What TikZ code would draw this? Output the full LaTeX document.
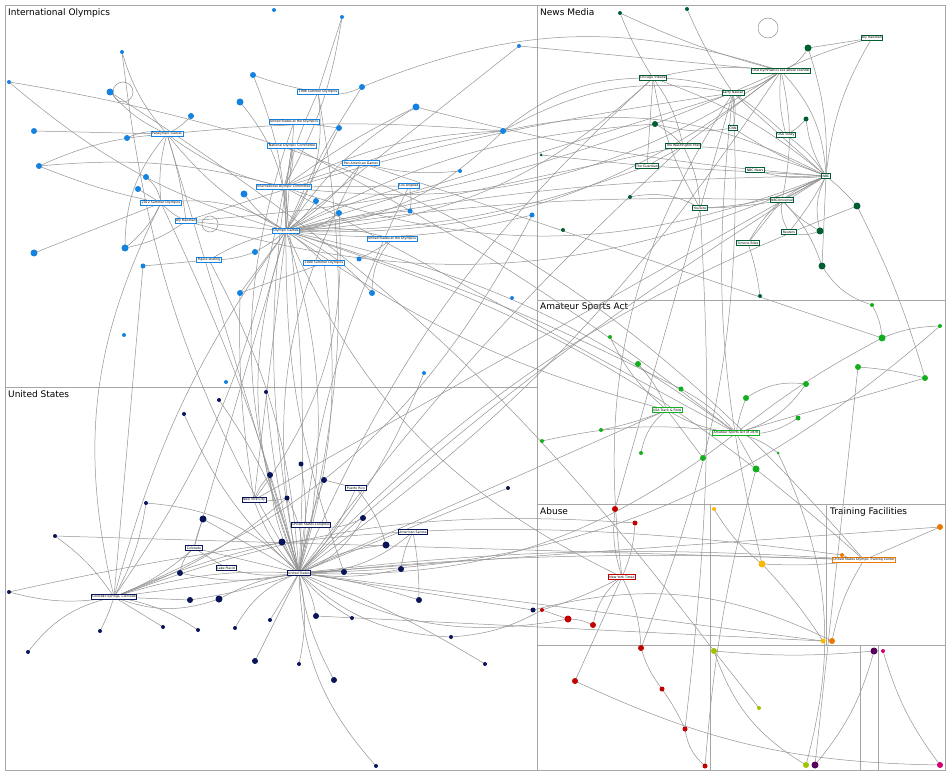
\documentclass[tikz,border=0pt]{standalone}
\usepackage{fontspec}
\setmainfont{DejaVu Sans}
\definecolor{cb}{RGB}{20,130,225}
\definecolor{cn}{RGB}{10,20,90}
\definecolor{cdg}{RGB}{0,95,50}
\definecolor{clg}{RGB}{20,175,30}
\definecolor{cr}{RGB}{195,0,0}
\definecolor{cy}{RGB}{250,185,0}
\definecolor{co}{RGB}{235,120,0}
\definecolor{cyg}{RGB}{160,195,0}
\definecolor{cp}{RGB}{90,0,90}
\definecolor{cm}{RGB}{210,0,120}
\tikzset{
 lab/.style={draw=#1,fill=white,line width=0.8pt,font=\fontsize{3.2}{3.2}\selectfont,inner sep=1pt,text=black},
 dot/.style={circle,fill=#1,inner sep=0pt},
 edge/.style={draw=gray!85,line width=0.5pt},
 frame/.style={draw=gray!70,line width=0.6pt},
 title/.style={font=\fontsize{9}{9}\selectfont,anchor=north west,inner sep=1pt}
}
\begin{document}
\begin{tikzpicture}[x=1pt,y=-1pt]
\useasboundingbox (0,0) rectangle (950,775);
\fill[white] (0,0) rectangle (950,775);
% region frames
\draw[frame] (5,5) rectangle (945,770);
\draw[frame] (537,5) -- (537,770);
\draw[frame] (5,387) -- (537,387);
\draw[frame] (537,300) -- (945,300);
\draw[frame] (537,504) -- (945,504);
\draw[frame] (710,504) -- (710,770);
\draw[frame] (826,504) -- (826,645);
\draw[frame] (537,645) -- (945,645);
\draw[frame] (860,645) -- (860,770);
\draw[frame] (878,645) -- (878,770);
\node[title] (t1) at (7,7) {International Olympics};
\node[title] (t2) at (539,7) {News Media};
\node[title] (t3) at (7,389) {United States};
\node[title] (t4) at (539,302) {Amateur Sports Act};
\node[title] (t5) at (539,506) {Abuse};
\node[title] (t6) at (829,506) {Training Facilities};
% label coordinates
\foreach \x/\y/\n in {318/92/s96,294/122/usao,167/134/para,292/146/noc,361/163/pan,284/187/ioc,409/186/la,161/203/s12,186/221/aly,286/231/og,392/239/yog,209/260/fig,324/263/s00,
872/38/ar,653/78/ct,781/71/usag,733/93/ln,733/128/cnn,786/135/usat,683/146/wp,647/166/gu,755/170/nbcn,826/176/nbc,782/200/nbcu,700/208/yt,789/232/reu,748/243/sb,
254/500/nyc,356/488/pr,311/525/usc,413/532/as,194/548/col,226/568/lp,299/573/us,114/597/cs,667/410/usatf,736/433/asa,622/577/nyt,864/560/otc}
 \coordinate (\n) at (\x,\y);
% dots coordinates
\foreach \x/\y/\r [count=\i] in {274/10/4,342/17/4,122/52/4,519/46/4,9/82/4,110/92/7,253/75/6,362/87/6,240/102/7,416/107/7,191/116/6,339/128/6,503/131/6,127/138/6,34/131/6,39/166/6,146/177/6,138/189/6,244/194/7,316/201/6,460/171/4,410/211/5,339/213/6,532/215/5,34/253/7,125/248/7,143/266/5,255/252/6,359/259/5,240/293/6,372/293/6,512/298/4,124/335/4,226/382/4,424/373/4}
 {\coordinate (b\i) at (\x,\y);}
\foreach \x/\y/\r [count=\i] in {184/414/4,219/400/4,266/392/4,146/503/4,203/519/7,270/475/6,301/464/5,324/480/6,287/498/5,282/542/7,386/545/7,401/569/6,344/572/6,363/518/6,508/488/4,180/573/6,219/599/7,190/600/6,9/592/4,55/536/4,100/631/4,28/652/4,163/627/4,198/630/4,235/628/4,270/620/4,316/616/6,352/618/4,419/600/6,451/637/4,255/661/6,299/664/4,334/680/6,485/664/4,376/766/4,533/610/5}
 {\coordinate (n\i) at (\x,\y);}
\foreach \x/\y/\r [count=\i] in {620/13/4,687/9/4,808/48/7,655/124/6,806/119/5,857/206/7,820/231/7,822/266/7,630/197/4,563/230/4,541/155/3,760/296/4}
 {\coordinate (dg\i) at (\x,\y);}
\foreach \x/\y/\r [count=\i] in {872/305/4,882/338/7,940/326/4,610/337/4,638/364/6,681/389/5,806/384/6,858/367/6,746/398/6,925/378/6,798/418/5,542/441/4,601/430/4,641/453/4,703/458/6,756/469/7,778/453/3}
 {\coordinate (lg\i) at (\x,\y);}
\foreach \x/\y [count=\i] in {615/509,635/523,542/610,568/619,593/625,641/648,575/681,662/689,685/729,705/766}
 {\coordinate (r\i) at (\x,\y);}
\foreach \x/\y [count=\i] in {714/509,762/564,823/641,759/708,714/651,806/765}
 {\coordinate (y\i) at (\x,\y);}
\foreach \x/\y [count=\i] in {940/527,842/555,832/641}{\coordinate (o\i) at (\x,\y);}
\coordinate (p1) at (874,651); \coordinate (p2) at (815,765);
\coordinate (m1) at (883,651); \coordinate (m2) at (940,765);
% edges
\foreach \a/\b [count=\i] in {og/b5,og/b7,og/b8,og/b9,og/b12,og/b19,og/b20,og/b22,og/b23,og/b30,og/b31,og/ioc,og/noc,og/s96,og/usao,og/para,og/pan,og/la,og/s12,og/aly,og/yog,og/fig,og/s00,og/us,og/nyc,og/usc,og/cs,og/nbc,og/usag,og/ln,og/asa,og/usatf,og/nbcu,og/ct,og/wp,og/otc,og/n13,og/lg6,og/b13,og/b4,og/b10,og/b24,og/b28,og/nyt,og/col,og/dg4,og/gu,
ioc/s96,ioc/noc,ioc/pan,ioc/para,ioc/b16,ioc/us,ioc/nbc,ioc/asa,ioc/cs,ioc/b2,ioc/b10,ioc/usag,ioc/la,ioc/b13,
para/b11,para/b13,para/b14,para/b15,para/b6,para/s12,para/aly,para/b26,para/us,para/b3,para/b16,
s12/b16,s12/b17,s12/b25,s12/b26,s12/aly,s12/us,s12/cs,s12/b18,aly/b26,aly/usag,aly/ln,aly/nbc,fig/b27,fig/us,fig/b28,s96/b7,s96/b8,s96/b2,s96/us,pan/b21,pan/b13,pan/us,pan/lg2,la/b22,la/us,yog/b29,yog/b31,s00/b30,s00/us,noc/us,noc/asa,usao/us,usao/b12,
us/n1,us/n2,us/n3,us/n4,us/n5,us/n6,us/n7,us/n8,us/n9,us/n10,us/n11,us/n12,us/n13,us/n14,us/n15,us/n16,us/n17,us/n18,us/n25,us/n26,us/n27,us/n28,us/n29,us/n30,us/n31,us/n32,us/n33,us/n34,us/n35,us/n36,us/nyc,us/pr,us/usc,us/as,us/col,us/lp,us/cs,us/nbc,us/asa,us/usatf,us/ct,us/usag,us/otc,us/r4,us/y3,us/b3,us/b35,us/wp,us/lg3,us/o1,us/dg6,
cs/col,cs/n10,cs/n17,cs/n18,cs/n19,cs/n20,cs/n21,cs/n22,cs/n23,cs/n24,cs/n9,cs/otc,cs/b24,cs/b27,cs/r2,cs/n4,col/n5,col/n16,col/lp,nyc/n6,nyc/n9,nyc/b30,nyc/b23,pr/n8,pr/n11,as/n12,as/n29,usc/n14,
nbc/nbcu,nbc/nbcn,nbc/usat,nbc/cnn,nbc/usag,nbc/ln,nbc/ar,nbc/dg3,nbc/dg6,nbc/dg7,nbc/dg8,nbc/yt,nbc/wp,nbc/reu,nbc/sb,nbc/gu,nbc/dg5,nbc/ct,nbc/b10,nbc/b13,nbc/nyc,
usag/ln,usag/ct,usag/ar,usag/dg3,usag/wp,usag/nbcu,usag/usat,usag/dg1,usag/b8,usag/b4,ln/cnn,ln/ct,ln/usat,ln/nyt,ln/r1,ln/r6,ln/y2,ln/dg2,ln/b13,ct/gu,ct/wp,ct/yt,ct/dg1,ct/b13,wp/gu,wp/yt,wp/dg4,nbcu/yt,nbcu/reu,nbcu/sb,nbcu/dg8,nbcu/dg7,yt/r9,yt/dg9,gu/dg11,cnn/dg4,usat/dg5,sb/dg12,reu/dg7,ar/dg3,
asa/usatf,asa/lg6,asa/lg9,asa/lg11,asa/lg16,asa/lg17,asa/lg12,asa/lg2,asa/lg7,asa/lg10,usatf/lg4,usatf/lg5,usatf/lg13,usatf/lg14,usatf/lg15,lg1/lg2,lg3/lg2,lg8/lg10,lg7/lg9,
otc/o1,otc/o2,otc/o3,otc/y2,otc/b5,otc/n20,nyt/r1,nyt/r2,nyt/r3,nyt/r5,nyt/r7,nyt/r6,r6/r8,r8/r9,r9/r10,r3/r4,r4/r5,y1/y2,y2/y3,y5/y6,y5/y4,p1/p2,m1/m2,p1/y5,o3/n36,y3/n27,r3/n30,y5/b6,r10/lg16,y6/lg17,p2/lg8,m2/r7,o2/n19,dg6/lg10,dg8/lg1}
{\pgfmathtruncatemacro\k{mod(\i,5)}
 \ifcase\k \def\bb{0}\or\def\bb{12}\or\def\bb{-10}\or\def\bb{5}\else\def\bb{-20}\fi
 \draw[edge] (\a) to[bend left=\bb] (\b);}
% self loops
\draw[edge] (123,92) circle (10); \draw[edge] (768,28) circle (10); \draw[edge] (210,224) circle (8);
% dots
\foreach \x/\y/\r [count=\i] in {274/10/4,342/17/4,122/52/4,519/46/4,9/82/4,110/92/7,253/75/6,362/87/6,240/102/7,416/107/7,191/116/6,339/128/6,503/131/6,127/138/6,34/131/6,39/166/6,146/177/6,138/189/6,244/194/7,316/201/6,460/171/4,410/211/5,339/213/6,532/215/5,34/253/7,125/248/7,143/266/5,255/252/6,359/259/5,240/293/6,372/293/6,512/298/4,124/335/4,226/382/4,424/373/4}
 \node[dot=cb,minimum size=\r] (B\i) at (\x,\y) {};
\foreach \x/\y/\r [count=\i] in {184/414/4,219/400/4,266/392/4,146/503/4,203/519/7,270/475/6,301/464/5,324/480/6,287/498/5,282/542/7,386/545/7,401/569/6,344/572/6,363/518/6,508/488/4,180/573/6,219/599/7,190/600/6,9/592/4,55/536/4,100/631/4,28/652/4,163/627/4,198/630/4,235/628/4,270/620/4,316/616/6,352/618/4,419/600/6,451/637/4,255/661/6,299/664/4,334/680/6,485/664/4,376/766/4,533/610/5}
 \node[dot=cn,minimum size=\r] (N\i) at (\x,\y) {};
\foreach \x/\y/\r [count=\i] in {620/13/4,687/9/4,808/48/7,655/124/6,806/119/5,857/206/7,820/231/7,822/266/7,630/197/4,563/230/4,541/155/3,760/296/4}
 \node[dot=cdg,minimum size=\r] (DG\i) at (\x,\y) {};
\foreach \x/\y/\r [count=\i] in {872/305/4,882/338/7,940/326/4,610/337/4,638/364/6,681/389/5,806/384/6,858/367/6,746/398/6,925/378/6,798/418/5,542/441/4,601/430/4,641/453/4,703/458/6,756/469/7,778/453/3}
 \node[dot=clg,minimum size=\r] (LG\i) at (\x,\y) {};
\foreach \x/\y/\r [count=\i] in {615/509/6,635/523/5,542/610/4,568/619/7,593/625/6,641/648/6,575/681/6,662/689/5,685/729/5,705/766/5}
 \node[dot=cr,minimum size=\r] (R\i) at (\x,\y) {};
\foreach \x/\y/\r/\c [count=\i] in {714/509/4/cy,762/564/7/cy,823/641/5/cy,759/708/4/cyg,714/651/6/cyg,806/765/6/cyg}
 \node[dot=\c,minimum size=\r] (Y\i) at (\x,\y) {};
\foreach \x/\y/\r [count=\i] in {940/527/6,842/555/4,832/641/6}
 \node[dot=co,minimum size=\r] (O\i) at (\x,\y) {};
\node[dot=cp,minimum size=7] (P1) at (874,651) {};
\node[dot=cp,minimum size=7] (P2) at (815,765) {};
\node[dot=cm,minimum size=4] (M1) at (883,651) {};
\node[dot=cm,minimum size=6] (M2) at (940,765) {};
% labelled nodes
\foreach \n/\t in {s96/1996 Summer Olympics,usao/United States at the Olympics,para/Paralympic Games,noc/National Olympic Committee,pan/Pan American Games,ioc/International Olympic Committee,la/Los Angeles,s12/2012 Summer Olympics,aly/Aly Raisman,og/Olympic Games,yog/United States at the Olympics,fig/Figure skating,s00/2000 Summer Olympics}
 \node[lab=cb] (L\n) at (\n) {\t};
\foreach \n/\t in {ar/Aly Raisman,ct/Chicago Tribune,usag/USA Gymnastics sex abuse scandal,ln/Larry Nassar,cnn/CNN,usat/USA Today,wp/The Washington Post,gu/The Guardian,nbcn/NBC News,nbc/NBC,nbcu/NBCUniversal,yt/YouTube,reu/Reuters,sb/Simone Biles}
 \node[lab=cdg] (L\n) at (\n) {\t};
\foreach \n/\t in {nyc/New York City,pr/Puerto Rico,usc/United States Congress,as/American Samoa,col/Colorado,lp/Lake Placid,us/United States,cs/{Colorado Springs, Colorado}}
 \node[lab=cn] (L\n) at (\n) {\t};
\node[lab=clg] (Lusatf) at (usatf) {USA Track \& Field};
\node[lab=clg] (Lasa) at (asa) {Amateur Sports Act of 1978};
\node[lab=cr] (Lnyt) at (nyt) {New York Times};
\node[lab=co] (Lotc) at (otc) {United States Olympic Training Center};
\end{tikzpicture}
\end{document}
